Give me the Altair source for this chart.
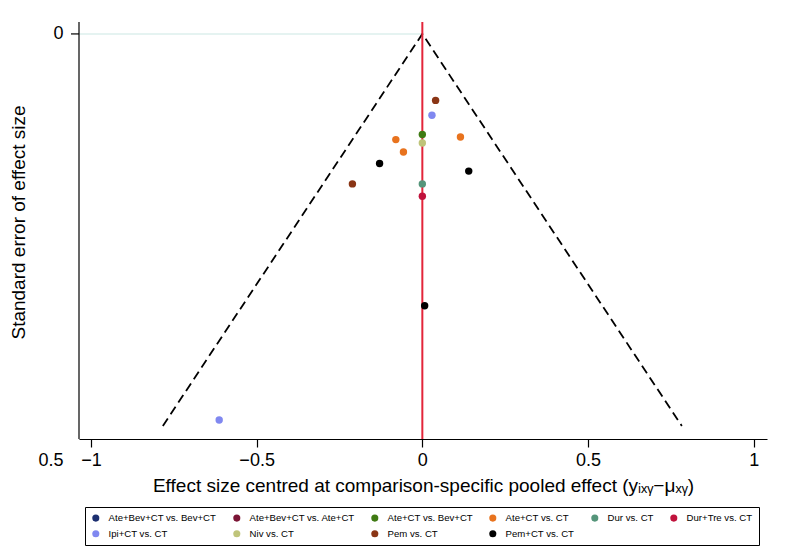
import altair as alt
import pandas as pd

# Legend categories and colours
groups = ["Ate+Bev+CT vs. Bev+CT", "Ate+Bev+CT vs. Ate+CT", "Ate+CT vs. Bev+CT",
          "Ate+CT vs. CT", "Dur vs. CT", "Dur+Tre vs. CT",
          "Ipi+CT vs. CT", "Niv vs. CT", "Pem vs. CT", "Pem+CT vs. CT"]
colors = ["#1c2f70", "#7b1535", "#3f7a13", "#e8731e", "#55957a", "#c0123c",
          "#8088f0", "#bfc47a", "#8a3515", "#000000"]

# Study points (effect centred at pooled effect, standard error)
pt_group = ["Pem vs. CT", "Ipi+CT vs. CT", "Ate+CT vs. Bev+CT", "Niv vs. CT",
            "Ate+CT vs. CT", "Ate+CT vs. CT", "Ate+CT vs. CT",
            "Pem+CT vs. CT", "Pem+CT vs. CT", "Pem vs. CT", "Dur vs. CT",
            "Dur+Tre vs. CT", "Pem+CT vs. CT", "Ipi+CT vs. CT"]
pt_effect = [0.040, 0.029, 0.000, 0.000, -0.080, -0.057, 0.115,
             -0.129, 0.140, -0.211, 0.000, 0.000, 0.007, -0.613]
pt_se = [0.078, 0.0955, 0.118, 0.128, 0.124, 0.1385, 0.121,
         0.152, 0.161, 0.176, 0.176, 0.1905, 0.319, 0.453]

# Pseudo 95% confidence funnel
funnel_x = [-0.783, 0.0, 0.783]
funnel_se = [0.46, 0.0, 0.46]

x_ticks = [-1, -0.5, 0, 0.5, 1]
y_ticks = [0, 0.5]
x_range = [-1.036, 1.04]
y_range = [-0.014, 0.5]
axis_bottom = 0.4754

x_title = "Effect size centred at comparison-specific pooled effect (yᵢₓᵧ−μₓᵧ)"
y_title = "Standard error of effect size"

FONT = "Liberation Sans"
LBL = "replace(toString(datum.value), '-', '−')"

xs = alt.Scale(domain=x_range, nice=False, zero=False)
ys = alt.Scale(domain=y_range, nice=False, zero=False, reverse=True)

xaxis = alt.Axis(values=x_ticks, title=x_title, grid=False, offset=-21,
                 domainColor="black", domainWidth=1.2, tickColor="black",
                 tickSize=8, tickWidth=1.2, labelFontSize=18, labelFont=FONT,
                 labelPadding=4, labelColor="black", labelExpr=LBL,
                 titleFontSize=19, titleFont=FONT, titleFontWeight="normal",
                 titlePadding=7, titleColor="black")
yaxis = alt.Axis(values=y_ticks, title=y_title, grid=False, domain=False,
                 ticks=False, labelFontSize=18, labelFont=FONT, labelPadding=16,
                 labelColor="black", labelExpr=LBL, titleFontSize=19, titleFont=FONT,
                 titleFontWeight="normal", titlePadding=9, titleColor="black",
                 titleY=200)

def X(f):
    return alt.X(f, type="quantitative", scale=xs, axis=xaxis)

def Y(f):
    return alt.Y(f, type="quantitative", scale=ys, axis=yaxis)

pts = pd.DataFrame({"group": pt_group, "effect": pt_effect, "se": pt_se})
fun = pd.DataFrame({"fx": funnel_x, "fse": funnel_se, "o": list(range(len(funnel_x)))})

gridline = alt.Chart(pd.DataFrame({"a": [x_range[0]], "b": [0.0], "yy": [0.0]})).mark_rule(
    color="#dcefec", strokeWidth=1.5).encode(x=X("a"), x2="b", y=Y("yy"))

yline = alt.Chart(pd.DataFrame({"a": [x_range[0]], "t": [y_range[0]], "b": [axis_bottom]})).mark_rule(
    color="black", strokeWidth=1.2).encode(x=X("a"), y=Y("t"), y2="b")

ytick = alt.Chart(pd.DataFrame({"v": [0.0]})).mark_rule(color="black", strokeWidth=1.2).encode(
    x=alt.value(-8), x2=alt.value(0), y=Y("v"))

funnel = alt.Chart(fun).mark_line(color="black", strokeWidth=1.8, strokeDash=[9, 5]).encode(
    x=X("fx"), y=Y("fse"), order="o:Q")

redline = alt.Chart(pd.DataFrame({"z": [0.0], "t": [y_range[0]], "b": [axis_bottom]})).mark_rule(
    color="#e3253a", strokeWidth=2).encode(x=X("z"), y=Y("t"), y2="b")

points = alt.Chart(pts).mark_circle(size=55, opacity=1).encode(
    x=X("effect"), y=Y("se"),
    color=alt.Color("group:N",
                    scale=alt.Scale(domain=groups, range=colors),
                    sort=groups,
                    legend=alt.Legend(title=None, orient="none", legendX=6, legendY=485,
                                      direction="horizontal", columns=6,
                                      columnPadding=15, rowPadding=5,
                                      symbolType="circle", symbolSize=50,
                                      symbolStrokeWidth=0, symbolOpacity=1,
                                      labelFontSize=9.6, labelFont=FONT,
                                      labelColor="black", labelOffset=8,
                                      labelLimit=300,
                                      strokeColor="black", padding=6,
                                      fillColor="white")))

chart = alt.layer(gridline, yline, ytick, funnel, redline, points).properties(
    width=688, height=438,
    autosize=alt.AutoSizeParams(type="none"),
    padding={"left": 71, "top": 14, "right": 13, "bottom": 88},
    background="white",
).configure_view(stroke=None)

chart.save("out.html", embed_options={"renderer": "svg", "actions": False})
